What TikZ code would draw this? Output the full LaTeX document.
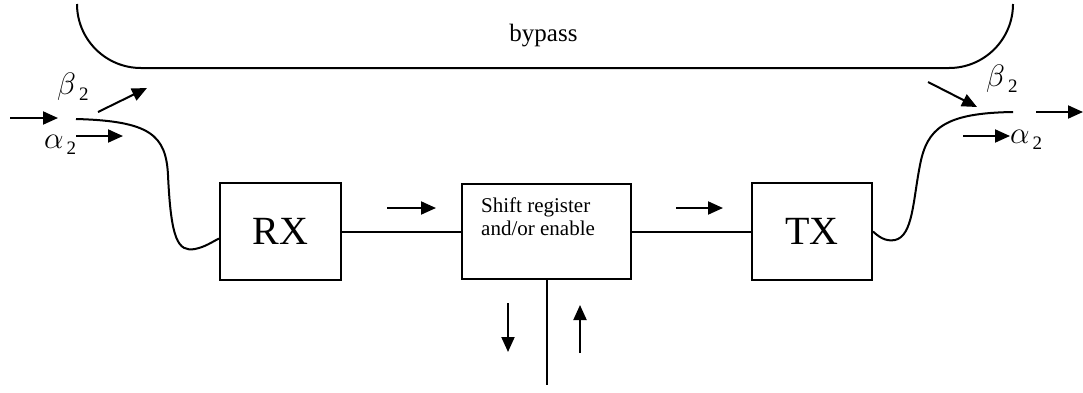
\RequirePackage{fix-cm}
\documentclass[tikz,border=0pt]{standalone}
\usepackage{fontspec}
\setmainfont{Liberation Serif}
\usepackage{tikz}
\usetikzlibrary{positioning, arrows.meta}

% greek letter with a lowered index
\newcommand{\gsub}[2]{$#1$\kern3pt\raisebox{-0.2em}{\fontsize{19}{19}\selectfont #2}}

\tikzset{
  block/.style={draw, line width=2pt, inner sep=0pt},
  wire/.style={line width=2pt},
  flow/.style={line width=2pt, -{Triangle[length=15pt, width=13pt]}},
  greek/.style={inner sep=0pt, anchor=base west, font=\fontsize{31}{33}\selectfont}
}

\begin{document}
\begin{tikzpicture}[x=1pt, y=-1pt]
    \useasboundingbox (0,0) rectangle (1083,392);

    % the three stages
    \node[block, minimum width=121pt, minimum height=97pt,
          font=\fontsize{40}{44}\selectfont] (rx) at (280.5,231.5) {RX};
    \node[block, minimum width=169pt, minimum height=95pt,
          right=119pt of rx] (shift) {};
    \node[inner sep=0pt, anchor=north west, align=left,
          font=\fontsize{21}{23}\selectfont] (shifttext)
          at ([xshift=20pt, yshift=-15pt]shift.north west)
          {Shift register\\and/or enable};
    \node[block, minimum width=120pt, minimum height=97pt,
          font=\fontsize{40}{44}\selectfont, right=119pt of shift] (tx) {TX};

    \draw[wire] (rx) -- (shift);
    \draw[wire] (shift) -- (tx);
    \coordinate (bus) at (shift.south |- 0,385);
    \draw[wire] (shift.south) -- (bus);

    % line in and line out
    \coordinate (linein) at (76,119);
    \coordinate (lineout) at (1013,112);
    \draw[wire] (linein) .. controls (150,121) and (166,135) .. (168,175)
      .. controls (171,240) and (178,252) .. (195,249)
      .. controls (205,247) and (212,242) .. ([yshift=-7pt]rx.west);
    \draw[wire] (tx.east) .. controls (878,236) and (885,242) .. (895,240)
      .. controls (913,236) and (913,200) .. (920,165)
      .. controls (927,128) and (945,113) .. (lineout);

    % bypass path
    \draw[wire, rounded corners=64pt] (77,4) -- (77,68) -- (1013,68) -- (1013,4);
    \node[inner sep=0pt, anchor=base, font=\fontsize{25}{27}\selectfont]
      (bypass) at (543.5,41) {bypass};

    % direction marks
    \draw[flow] (10,118) -- (58,118);
    \draw[flow] (98,112) -- (147,88);
    \draw[flow] (76,136) -- (123,136);
    \draw[flow] (387,208) -- (436,208);
    \draw[flow] (676,208) -- (723,208);
    \draw[flow] (508,303) -- (508,352);
    \draw[flow] (580,353) -- (580,305);
    \draw[flow] (928,82) -- (977,107);
    \draw[flow] (963,136) -- (1010,136);
    \draw[flow] (1036,112) -- (1083,112);

    \node[greek] (betain) at (57,94) {\gsub{\beta}{2}};
    \node[greek] (alphain) at (44,148) {\gsub{\alpha}{2}};
    \node[greek] (betaout) at (986,86) {\gsub{\beta}{2}};
    \node[greek] (alphaout) at (1010,143) {\gsub{\alpha}{2}};
\end{tikzpicture}
\end{document}
